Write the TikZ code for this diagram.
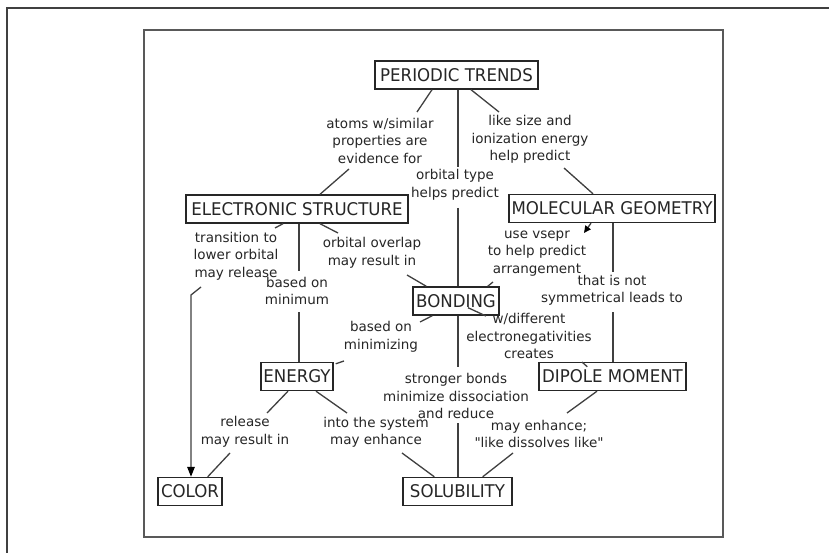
\documentclass[tikz,border=0pt]{standalone}
\usepackage{fontspec}
\setmainfont{DejaVu Sans}
\newfontfamily\boxfont[FakeStretch=0.95]{DejaVu Sans}
\usetikzlibrary{arrows.meta,calc}

\begin{document}
\begin{tikzpicture}[x=1pt,y=-1pt,
  conceptbox/.style={draw=black!85, line width=1.4pt, inner sep=0pt,
    minimum height=28pt, text height=12.6pt, text depth=0pt,
    font=\boxfont\fontsize{17.5}{20}\selectfont, text=black!85},
  linklabel/.style={align=center, inner sep=0pt,
    font=\fontsize{13.5}{17.5}\selectfont, text=black!85},
  link/.style={draw=black!75, line width=1.3pt},
  frameline/.style={draw=black!75, line width=1.3pt},
  bigtip/.style={-{Triangle[length=10pt,width=7.5pt,color=black,fill=black]}},
  smalltip/.style={-{Triangle[length=7pt,width=6.5pt,color=black,fill=black]}}]
\useasboundingbox (0,0) rectangle (829,553);
\fill[white] (0,0) rectangle (829,553);

% page frames
\draw[frameline] (7,553) -- (7,8) -- (829,8);
\draw[frameline, draw=black!65] (144,30) rectangle (723,537);

% concepts
\node[conceptbox, minimum width=163pt] (pt)     at (456.5,75)  {PERIODIC TRENDS};
\node[conceptbox, minimum width=222pt] (es)     at (297,209)   {ELECTRONIC STRUCTURE};
\node[conceptbox, minimum width=206pt] (mg)     at (612,208.5) {MOLECULAR GEOMETRY};
\node[conceptbox, minimum width=86pt]  (bond)   at (456,301)   {BONDING};
\node[conceptbox, minimum width=72pt]  (energy) at (297,376.5) {ENERGY};
\node[conceptbox, minimum width=147pt] (dip)    at (612.5,376.5) {DIPOLE MOMENT};
\node[conceptbox, minimum width=64pt]  (color)  at (190,491.5) {COLOR};
\node[conceptbox, minimum width=109pt] (sol)    at (457.5,491.5) {SOLUBILITY};

% linking phrases
\node[linklabel] (l1)  at (380,140.5) {atoms w/similar\\properties are\\evidence for};
\node[linklabel] (l2)  at (455,185)   {orbital type\\helps predict};
\node[linklabel] (l3)  at (530,139.5) {like size and\\ionization energy\\help predict};
\node[linklabel] (l4)  at (236,256)   {transition to\\lower orbital\\may release};
\node[linklabel] (l5)  at (297,291)   {based on\\minimum};
\node[linklabel] (l6)  at (372,253)   {orbital overlap\\may result in};
\node[linklabel] (l7)  at (537,253.5) {use vsepr\\to help predict\\arrangement};
\node[linklabel] (l8)  at (612,290.5) {that is not\\symmetrical leads to};
\node[linklabel] (l9)  at (381,337)   {based on\\minimizing};
\node[linklabel] (l10) at (529,336)   {w/different\\electronegativities\\creates};
\node[linklabel] (l11) at (456,396)   {stronger bonds\\minimize dissociation\\and reduce};
\node[linklabel] (l12) at (245,432)   {release\\may result in};
\node[linklabel] (l13) at (376,432.5) {into the system\\may enhance};
\node[linklabel] (l14) at (539,434)   {may enhance;\\\textquotedbl like dissolves like\textquotedbl};

% connector ends next to the linking phrases
\coordinate (k1)  at (417,112);
\coordinate (k2)  at (349,169);
\coordinate (k3)  at (458,167);
\coordinate (k4)  at (458,208);
\coordinate (k5)  at (499,112);
\coordinate (k6)  at (564,168);
\coordinate (k7)  at (275,228);
\coordinate (k8)  at (201,287);
\coordinate (k9)  at (191,295);
\coordinate (k10) at (299,271);
\coordinate (k11) at (299,312);
\coordinate (k12) at (338,233);
\coordinate (k13) at (407,275);
\coordinate (k14) at (584,233);
\coordinate (k15) at (493,282);
\coordinate (k16) at (613,272);
\coordinate (k17) at (613,312);
\coordinate (k18) at (420,322);
\coordinate (k19) at (344,361);
\coordinate (k20) at (486,316);
\coordinate (k21) at (582,362);
\coordinate (k22) at (458,367);
\coordinate (k23) at (458,423);
\coordinate (k24) at (267,413);
\coordinate (k25) at (230,453);
\coordinate (k26) at (347,413);
\coordinate (k27) at (402,453);
\coordinate (k28) at (567,413);
\coordinate (k29) at (513,453);

% connectors
\draw[link] ($(pt.south)+(-24.5,0)$) -- (k1);
\draw[link] (k2) -- ($(es.north)+(23,0)$);
\draw[link] ($(pt.south)+(1.5,0)$) -- (k3);
\draw[link] (k4) -- ($(bond.north)+(2,0)$);
\draw[link] ($(pt.south)+(14.5,0)$) -- (k5);
\draw[link] (k6) -- ($(mg.north)+(-19,0)$);

\draw[link] ($(es.south)+(-14,0)$) -- (k7);
\draw[link, bigtip] (k8) -- (k9) -- ($(color.north)+(1,0)$);
\draw[link] ($(es.south)+(2,0)$) -- (k10);
\draw[link] (k11) -- ($(energy.north)+(2,0)$);
\draw[link] ($(es.south)+(23,0)$) -- (k12);
\draw[link] (k13) -- ($(bond.north west)+(14,0)$);

\draw[link, smalltip] ($(mg.south)+(-21,0)$) -- (k14);
\draw[link] (k15) -- ($(bond.north east)+(-12,0)$);
\draw[link] ($(mg.south)+(1,0)$) -- (k16);
\draw[link] (k17) -- ($(dip.north)+(0.5,0)$);

\draw[link] ($(bond.south west)+(20,0)$) -- (k18);
\draw[link] (k19) -- ($(energy.north east)+(2,2)$);
\draw[link] ($(bond.south)+(12,-8)$) -- (k20);
\draw[link] (k21) -- ($(dip.north west)+(49,5)$);
\draw[link] ($(bond.south)+(2,0)$) -- (k22);
\draw[link] (k23) -- ($(sol.north)+(0.5,0)$);

\draw[link] ($(energy.south)+(-9,0)$) -- (k24);
\draw[link] (k25) -- ($(color.north east)+(-15,0)$);
\draw[link] ($(energy.south)+(19,0)$) -- (k26);
\draw[link] (k27) -- ($(sol.north west)+(32,0)$);
\draw[link] ($(dip.south)+(-15.5,0)$) -- (k28);
\draw[link] (k29) -- ($(sol.north east)+(-30,0)$);
\end{tikzpicture}
\end{document}
